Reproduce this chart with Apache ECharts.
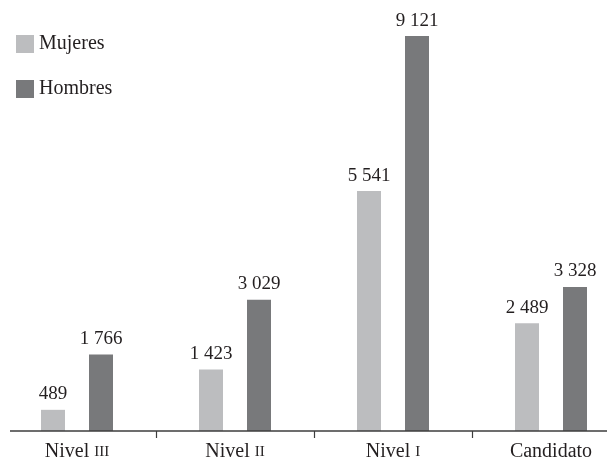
<!DOCTYPE html>
<html>
<head>
<meta charset="utf-8">
<script src="https://cdn.jsdelivr.net/npm/echarts@6/dist/echarts.min.js"></script>
<style>
  html, body { margin: 0; padding: 0; background: #fff; }
  #chart { width: 607px; height: 464px; }
</style>
</head>
<body>
<div id="chart"></div>
<script>
// Researchers by level and sex
const categories = ['Nivel III', 'Nivel II', 'Nivel I', 'Candidato'];
const mujeres = [489, 1423, 5541, 2489];
const hombres = [1766, 3029, 9121, 3328];
const seriesNames = ['Mujeres', 'Hombres'];

const FONT = 'Liberation Serif';
const TEXT = '#231f20';
const AXIS = '#3d3d3d';

// thousands separated by a space, e.g. 9 121
function fmt(v) {
  return String(v).replace(/\B(?=(\d{3})+(?!\d))/g, ' ');
}

// roman numerals drawn as small capitals
function catLabel(v) {
  const m = v.match(/^(.*\s)([IVX]+)$/);
  return m ? '{n|' + m[1] + '}{sc|' + m[2] + '}' : '{n|' + v + '}';
}

const chart = echarts.init(document.getElementById('chart'), null, { renderer: 'canvas' });

const labelOpt = {
  show: true,
  position: 'top',
  distance: 6,
  color: TEXT,
  fontFamily: FONT,
  fontSize: 19,
  formatter: p => fmt(p.value)
};

chart.setOption({
  animation: false,
  textStyle: { fontFamily: FONT },
  legend: {
    orient: 'vertical',
    left: 11,
    top: 29,
    itemWidth: 18,
    itemHeight: 18,
    itemGap: 25,
    icon: 'rect',
    textStyle: { fontFamily: FONT, fontSize: 20, color: TEXT },
    data: seriesNames
  },
  grid: {
    left: -2, width: 632, top: -2, height: 433,
    containLabel: false,
    outerBoundsMode: 'none'
  },
  xAxis: {
    type: 'category',
    data: categories,
    axisLine: { show: false },
    axisTick: { show: true, length: 7, lineStyle: { color: AXIS, width: 1.2 } },
    axisLabel: {
      margin: 11,
      formatter: catLabel,
      rich: {
        n: { fontFamily: FONT, fontSize: 20, color: TEXT },
        sc: { fontFamily: FONT, fontSize: 15, color: TEXT }
      }
    }
  },
  yAxis: {
    type: 'value',
    min: 0,
    max: 10000,
    show: false,
    splitLine: { show: false }
  },
  series: [
    {
      name: seriesNames[0],
      type: 'bar',
      data: mujeres,
      barWidth: 24,
      barGap: '100%',
      itemStyle: { color: '#bcbdbf' },
      label: labelOpt
    },
    {
      name: seriesNames[1],
      type: 'bar',
      data: hombres,
      barWidth: 24,
      barGap: '100%',
      itemStyle: { color: '#78797b' },
      label: labelOpt
    }
  ]
});

// baseline drawn at the zero value, starting a little in from the left edge
const baseY = chart.convertToPixel({ yAxisIndex: 0 }, 0);
chart.setOption({
  graphic: [{
    type: 'line',
    shape: { x1: 10, y1: baseY, x2: 607, y2: baseY },
    style: { stroke: AXIS, lineWidth: 1.5 },
    z: 10
  }]
});
</script>
</body>
</html>
